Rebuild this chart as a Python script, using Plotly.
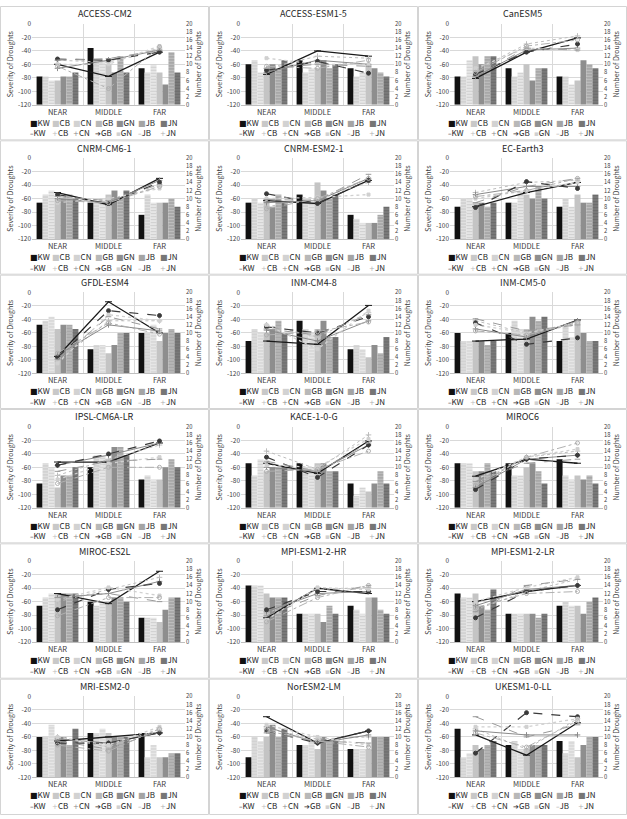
import plotly.graph_objects as go

W, H = 627, 819

categories = ["NEAR", "MIDDLE", "FAR"]
series = ["KW", "CB", "CN", "GB", "GN", "JB", "JN"]
sev_ticks = [0, -20, -40, -60, -80, -100, -120]
num_ticks = list(range(0, 21, 2))

# ---- data: rows = NEAR, MIDDLE, FAR ; columns = KW, CB, CN, GB, GN, JB, JN ----
sev_access_cm2 = [[-78, -78, -84, -84, -78, -78, -72], [-36, -54, -54, -60, -72, -48, -72], [-66, -72, -60, -72, -90, -42, -72]]
num_access_cm2 = [[10, 11, 9, 11.3, 10, 11, 9.5], [7, 10.5, 11, 11, 10, 11.4, 4], [13, 14, 13.5, 13, 14.5, 13.5, 14.3]]

sev_access_esm1_5 = [[-60, -54, -72, -72, -60, -66, -54], [-54, -72, -66, -66, -54, -66, -60], [-66, -78, -72, -60, -66, -72, -78]]
num_access_esm1_5 = [[7.5, 9, 8, 8.5, 11.5, 9, 9.5], [13.3, 12, 11, 10.7, 10, 10, 9], [12, 11.5, 10, 7.8, 10, 9.5, 11]]

sev_canesm5 = [[-78, -78, -54, -48, -60, -48, -48], [-66, -78, -72, -60, -84, -66, -66], [-78, -78, -90, -84, -54, -60, -66]]
num_canesm5 = [[6.5, 8.5, 7, 7.5, 9, 7, 8], [13, 15, 13.5, 13, 14, 14, 14.5], [16.5, 17, 14, 15, 13.5, 13.5, 16]]

sev_cnrm_cm6_1 = [[-66, -54, -48, -60, -60, -54, -60], [-66, -66, -60, -54, -48, -60, -48], [-84, -54, -66, -66, -66, -60, -72]]
num_cnrm_cm6_1 = [[11.5, 10.5, 10, 11, 9, 10.5, 9.5], [8.5, 9.5, 9, 8.8, 10, 9.5, 9], [15, 13, 14.5, 14, 12.5, 13.5, 13]]

sev_cnrm_esm2_1 = [[-66, -60, -66, -60, -72, -54, -66], [-54, -60, -66, -36, -48, -60, -54], [-84, -90, -96, -96, -96, -84, -72]]
num_cnrm_esm2_1 = [[9.5, 8, 9, 11.2, 10, 9.8, 7.5], [8.8, 10, 9.5, 8.8, 10.3, 9.5, 10], [14.5, 14, 15, 14.5, 11, 16, 15]]

sev_ec_earth3 = [[-72, -60, -60, -66, -66, -72, -66], [-66, -66, -48, -54, -60, -42, -60], [-72, -60, -72, -54, -66, -66, -54]]
num_ec_earth3 = [[8, 11.5, 11, 7.8, 10, 9, 10.5], [11.5, 14, 13, 14.2, 12, 13, 12], [14, 14.5, 13, 12.5, 14, 15, 15]]

sev_gfdl_esm4 = [[-48, -42, -36, -54, -48, -48, -54], [-84, -78, -78, -90, -78, -60, -60], [-60, -60, -48, -72, -60, -54, -60]]
num_gfdl_esm4 = [[4.2, 3, 4.5, 4, 2.5, 3.5, 5], [17.7, 13, 12, 15.5, 14.5, 14, 12.5], [10, 13, 10.5, 14.3, 13, 11, 9.7]]

sev_inm_cm4_8 = [[-72, -54, -60, -60, -54, -42, -60], [-42, -54, -60, -54, -42, -66, -66], [-84, -78, -84, -96, -78, -90, -66]]
num_inm_cm4_8 = [[8, 12, 10.7, 11.5, 12, 11, 9.5], [7.2, 9, 8, 10, 6, 9.5, 10.3], [16.8, 15, 13, 14, 15.5, 14.5, 12.7]]

sev_inm_cm5_0 = [[-60, -72, -72, -72, -72, -78, -72], [-60, -42, -54, -54, -36, -42, -36], [-72, -48, -66, -42, -60, -72, -72]]
num_inm_cm5_0 = [[8, 13, 11, 12.5, 12, 13.5, 10.5], [8.5, 10, 9, 7.2, 10, 10.5, 9.5], [13.2, 12, 13, 8.8, 12.5, 12, 12.5]]

sev_ipsl_cm6a_lr = [[-84, -54, -60, -90, -72, -72, -60], [-60, -42, -42, -48, -30, -30, -42], [-78, -72, -78, -78, -60, -48, -60]]
num_ipsl_cm6a_lr = [[11.3, 8, 10.5, 10.5, 7, 9, 6], [11.3, 12, 13, 13.3, 11, 11.5, 10], [16, 15.5, 16, 16.5, 12.5, 12, 10]]

sev_kace_1_0_g = [[-54, -72, -48, -66, -60, -60, -60], [-54, -60, -60, -54, -54, -66, -66], [-84, -102, -90, -96, -84, -66, -84]]
num_kace_1_0_g = [[11, 14, 10, 12.5, 10.5, 11.5, 9], [8.5, 9.5, 9, 7.5, 10, 9, 9.5], [16.5, 18, 15.5, 15.5, 17, 16, 14]]

sev_miroc6 = [[-54, -54, -54, -66, -66, -54, -66], [-54, -72, -72, -60, -54, -66, -84], [-48, -72, -78, -72, -78, -72, -84]]
num_miroc6 = [[7.8, 6, 5, 4.5, 7, 6.5, 5.5], [12, 12.5, 12, 12, 12.5, 11, 12.5], [11, 14, 13, 13, 14.5, 12, 16]]

sev_miroc_es2l = [[-66, -54, -48, -48, -48, -48, -48], [-60, -66, -60, -60, -54, -54, -60], [-84, -84, -84, -90, -72, -54, -54]]
num_miroc_es2l = [[12, 10, 11, 8, 10.5, 11, 6.5], [9.5, 13, 12, 13, 13.5, 12, 11], [17.5, 16, 15, 14.5, 11.5, 10, 11]]

sev_mpi_esm1_2_hr = [[-36, -36, -36, -48, -54, -54, -54], [-78, -78, -78, -78, -90, -66, -78], [-66, -72, -78, -54, -54, -72, -78]]
num_mpi_esm1_2_hr = [[6, 7, 7.5, 8, 5.5, 6.5, 5], [13.3, 13, 12, 12.5, 13.5, 11.5, 11], [12, 13.5, 12.5, 12.5, 13, 14, 14]]

sev_mpi_esm1_2_lr = [[-48, -54, -54, -48, -66, -72, -42], [-78, -78, -78, -78, -78, -84, -78], [-66, -60, -66, -66, -78, -60, -54]]
num_mpi_esm1_2_lr = [[10, 8, 9, 6, 10, 7.5, 8.5], [12.5, 12.5, 13, 12.5, 13.5, 14, 12], [14, 15.5, 14, 14, 16, 15.5, 12.5]]

sev_mri_esm2_0 = [[-60, -60, -42, -60, -60, -72, -48], [-54, -54, -48, -54, -60, -60, -60], [-54, -90, -72, -90, -90, -84, -84]]
num_mri_esm2_0 = [[9, 10, 9.5, 8.5, 10, 9, 8], [10, 7.5, 8.5, 8.5, 8, 7, 6.5], [11, 12, 11, 11, 12.5, 11.5, 12]]

sev_noresm2_lm = [[-90, -60, -66, -60, -42, -60, -48], [-72, -72, -66, -78, -60, -66, -66], [-78, -78, -78, -78, -60, -60, -60]]
num_noresm2_lm = [[15, 12, 12.5, 11.5, 13, 11, 11.5], [8.5, 9.5, 8.5, 8.5, 10, 9, 9], [11.5, 10, 10.5, 11.5, 8, 8.5, 7.5]]

sev_ukesm1_0_ll = [[-48, -90, -84, -72, -78, -72, -66], [-72, -66, -78, -78, -72, -72, -72], [-66, -84, -66, -90, -72, -60, -60]]
num_ukesm1_0_ll = [[10.5, 12, 11.5, 6, 12.5, 15, 11], [5.5, 7, 10.5, 16, 12.5, 10, 7.5], [13.5, 14.5, 10.5, 15, 14.5, 13, 14]]

panels = [
    ("ACCESS-CM2", sev_access_cm2, num_access_cm2),
    ("ACCESS-ESM1-5", sev_access_esm1_5, num_access_esm1_5),
    ("CanESM5", sev_canesm5, num_canesm5),
    ("CNRM-CM6-1", sev_cnrm_cm6_1, num_cnrm_cm6_1),
    ("CNRM-ESM2-1", sev_cnrm_esm2_1, num_cnrm_esm2_1),
    ("EC-Earth3", sev_ec_earth3, num_ec_earth3),
    ("GFDL-ESM4", sev_gfdl_esm4, num_gfdl_esm4),
    ("INM-CM4-8", sev_inm_cm4_8, num_inm_cm4_8),
    ("INM-CM5-0", sev_inm_cm5_0, num_inm_cm5_0),
    ("IPSL-CM6A-LR", sev_ipsl_cm6a_lr, num_ipsl_cm6a_lr),
    ("KACE-1-0-G", sev_kace_1_0_g, num_kace_1_0_g),
    ("MIROC6", sev_miroc6, num_miroc6),
    ("MIROC-ES2L", sev_miroc_es2l, num_miroc_es2l),
    ("MPI-ESM1-2-HR", sev_mpi_esm1_2_hr, num_mpi_esm1_2_hr),
    ("MPI-ESM1-2-LR", sev_mpi_esm1_2_lr, num_mpi_esm1_2_lr),
    ("MRI-ESM2-0", sev_mri_esm2_0, num_mri_esm2_0),
    ("NorESM2-LM", sev_noresm2_lm, num_noresm2_lm),
    ("UKESM1-0-LL", sev_ukesm1_0_ll, num_ukesm1_0_ll),
]

# ---- styles ----
bar_style = {
    "KW": dict(bg="#111111", fg="#2a2a2a", shape="", leg="#111111"),
    "CB": dict(bg="#d2d2d2", fg="#f2f2f2", shape="-", leg="#c8c8c8"),
    "CN": dict(bg="#e6e6e6", fg="#b8b8b8", shape="-", leg="#d2d2d2"),
    "GB": dict(bg="#c4c4c4", fg="#c4c4c4", shape="", leg="#b8b8b8"),
    "GN": dict(bg="#8e8e8e", fg="#8e8e8e", shape="", leg="#8e8e8e"),
    "JB": dict(bg="#a8a8a8", fg="#d8d8d8", shape="-", leg="#a4a4a4"),
    "JN": dict(bg="#7a7a7a", fg="#5a5a5a", shape="-", leg="#767676"),
}
line_style = {
    "KW": dict(color="#1a1a1a", width=1.3, dash="solid", symbol="line-ew", size=5),
    "CB": dict(color="#bdbdbd", width=1.0, dash="dot", symbol="cross-thin", size=4),
    "CN": dict(color="#8a8a8a", width=1.0, dash="solid", symbol="cross-thin", size=4),
    "GB": dict(color="#3a3a3a", width=1.2, dash="dash", symbol="circle", size=4),
    "GN": dict(color="#d0d0d0", width=1.3, dash="dot", symbol="square", size=3),
    "JB": dict(color="#9a9a9a", width=1.0, dash="dash", symbol="line-ew", size=4),
    "JN": dict(color="#b0b0b0", width=1.0, dash="dashdot", symbol="circle-open", size=4),
}
leg2_sym = {"KW": "–", "CB": "+", "CN": "+", "GB": "➔", "GN": "▪", "JB": "–", "JN": "+"}

FONT = "Noto Sans CJK KR, Liberation Sans, DejaVu Sans"
SYMFONT = "DejaVu Sans"
TXT = "#404040"
GRID = "#d9d9d9"

col_x0 = [0, 209, 418]
row_y0 = [0, 136, 272, 408, 544, 681]
row_y1 = [136, 272, 408, 544, 681, 819]

fig = go.Figure()
layout = dict(
    width=W, height=H, autosize=False,
    margin=dict(l=0, r=0, t=0, b=0),
    paper_bgcolor="white", plot_bgcolor="white",
    barmode="group", bargap=0.18, bargroupgap=0.0,
    showlegend=False,
    font=dict(family=FONT, color=TXT),
)
shapes = []
annotations = []

for k, (name, sev, num) in enumerate(panels, start=1):
    r, c = divmod(k - 1, 3)
    x0 = col_x0[c]
    y0 = row_y0[r]
    y1 = row_y1[r]
    xr = "x" if k == 1 else f"x{k}"
    yl_i, yr_i = 2 * k - 1, 2 * k
    ylr = "y" if yl_i == 1 else f"y{yl_i}"
    yrr = f"y{yr_i}"
    xkey = "xaxis" if k == 1 else f"xaxis{k}"
    ylkey = "yaxis" if yl_i == 1 else f"yaxis{yl_i}"
    yrkey = f"yaxis{yr_i}"

    px0, px1 = x0 + 32, x0 + 185
    py0, py1 = y0 + 18, y0 + 100
    xdom = [px0 / W, px1 / W]
    ydom = [1 - py1 / H, 1 - py0 / H]

    for i, s in enumerate(series):
        vals = [sev[j][i] for j in range(3)]
        st = bar_style[s]
        fig.add_trace(go.Bar(
            x=categories, y=[v - (-120) for v in vals], base=-120,
            name=s, xaxis=xr, yaxis=ylr,
            marker=dict(color=st["bg"], line=dict(width=0),
                        pattern=dict(shape=st["shape"], fgcolor=st["fg"], bgcolor=st["bg"],
                                     size=3, solidity=0.35, fillmode="overlay")),
            hoverinfo="skip",
        ))
    for i, s in enumerate(series):
        vals = [num[j][i] for j in range(3)]
        st = line_style[s]
        fig.add_trace(go.Scatter(
            x=categories, y=vals, name=s, xaxis=xr, yaxis=yrr,
            mode="lines+markers",
            line=dict(color=st["color"], width=st["width"], dash=st["dash"]),
            marker=dict(symbol=st["symbol"], size=st["size"], color=st["color"],
                        line=dict(color=st["color"], width=1)),
            hoverinfo="skip",
        ))

    layout[xkey] = dict(
        domain=xdom, anchor=ylr, type="category",
        categoryorder="array", categoryarray=categories,
        tickson="boundaries", ticks="", showgrid=True, gridcolor=GRID, gridwidth=1,
        showline=True, linecolor="#bfbfbf", linewidth=1,
        tickfont=dict(size=7.5, color=TXT, family=FONT), fixedrange=True,
    )
    layout[ylkey] = dict(
        domain=ydom, anchor=xr, range=[-120, 0], tickvals=sev_ticks,
        ticktext=[str(t) for t in sev_ticks],
        showgrid=True, gridcolor=GRID, gridwidth=1, zeroline=False, ticks="",
        tickfont=dict(size=6.5, color=TXT, family=FONT),
        title=dict(text="Severity of Droughts", font=dict(size=7, color=TXT, family=FONT), standoff=3),
        fixedrange=True,
    )
    layout[yrkey] = dict(
        domain=ydom, anchor=xr, overlaying=ylr, side="right", range=[0, 20],
        tickvals=num_ticks, showgrid=False, zeroline=False, ticks="",
        tickfont=dict(size=5.8, color=TXT, family=FONT),
        title=dict(text="Number of Droughts", font=dict(size=7, color=TXT, family=FONT), standoff=3),
        fixedrange=True,
    )

    # panel border
    shapes.append(dict(type="rect", xref="paper", yref="paper",
                       x0=(x0 + 0.5) / W, x1=(x0 + 208.5) / W,
                       y0=1 - (y1 - 0.5) / H, y1=1 - (y0 + 0.5) / H,
                       line=dict(color="#d4d4d4", width=1), fillcolor="rgba(0,0,0,0)", layer="below"))
    # title
    annotations.append(dict(text=name, x=(x0 + 104.5) / W, y=1 - (y0 + 8) / H,
                            xref="paper", yref="paper", showarrow=False,
                            xanchor="center", yanchor="middle",
                            font=dict(size=9, color="#262626", family=FONT)))
    # legend rows
    for i, s in enumerate(series):
        lx = (x0 + 29 + i * 21.6) / W
        c1 = bar_style[s]["leg"]
        annotations.append(dict(
            text=f"<span style='color:{c1}; font-family:{SYMFONT}; font-size:8px'>■</span>{s}",
            x=lx, y=1 - (y0 + 117.5) / H, xref="paper", yref="paper", showarrow=False,
            xanchor="left", yanchor="middle", borderpad=0,
            font=dict(size=8, color="#262626", family=FONT)))
        c2 = line_style[s]["color"]
        annotations.append(dict(
            text=f"<span style='color:{c2}; font-family:{SYMFONT}; font-size:7px'>{leg2_sym[s]}</span>{s}",
            x=lx, y=1 - (y0 + 128.5) / H, xref="paper", yref="paper", showarrow=False,
            xanchor="left", yanchor="middle", borderpad=0,
            font=dict(size=8, color="#262626", family=FONT)))

layout["shapes"] = shapes
layout["annotations"] = annotations
fig.update_layout(**layout)
fig.write_html("out.html", config={"displayModeBar": False})
